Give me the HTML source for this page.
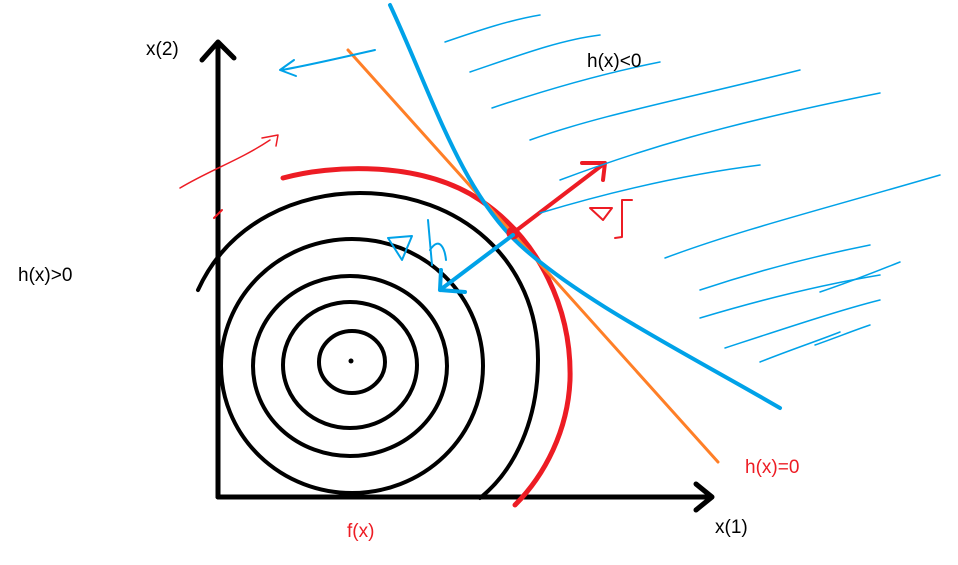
<!DOCTYPE html>
<html><head><style>
html,body{margin:0;padding:0;background:#fff;width:958px;height:565px;overflow:hidden}
text{font-family:"Liberation Sans",sans-serif;font-size:19px}
</style></head><body>
<svg width="958" height="565" viewBox="0 0 958 565" xmlns="http://www.w3.org/2000/svg">
<g fill="none" stroke-linecap="round" stroke-linejoin="round">
<path d="M218 497 V42 M202 60 L218 42 L234 58" stroke="#000" stroke-width="5"/>
<path d="M218 497 H712 M696 484 L712 497 L696 510" stroke="#000" stroke-width="5"/>
<g stroke="#000" stroke-width="4">
<ellipse cx="352" cy="362" rx="33" ry="31"/>
<ellipse cx="350" cy="365" rx="67" ry="63"/>
<ellipse cx="350" cy="366" rx="97" ry="90"/>
<ellipse cx="352" cy="366" rx="131" ry="127"/>
<path d="M198 290 C230 220 300 193 360 193 C460 193 538 260 538 360 C538 420 515 470 480 498"/>
</g>
<circle cx="351" cy="361" r="2.5" fill="#000" stroke="none"/>
<path d="M283 178 C330 165 420 160 480 200 C540 240 572 310 570 380 C568 430 545 475 515 505" stroke="#ed1c24" stroke-width="5"/>
<path d="M348 50 L718 462" stroke="#ff7f27" stroke-width="3"/>
<path d="M390 5 C430 90 460 190 520 245 C580 300 680 350 780 408" stroke="#00a2e8" stroke-width="4"/>
<path d="M513 233 L605 163 M582 163 L605 163 L603 180" stroke="#ed1c24" stroke-width="4"/>
<circle cx="513" cy="233" r="6" fill="#ed1c24" stroke="#ed1c24"/>
<path d="M513 235 L440 290 M441 270 L440 290 L465 292" stroke="#00a2e8" stroke-width="4"/>
<path d="M388 238 L412 236 L402 260 Z M428 220 L432 265 M430 250 C440 235 445 250 446 260" stroke="#00a2e8" stroke-width="2"/>
<path d="M590 208 L612 208 L603 220 Z M632 200 L622 200 L622 237 L615 238" stroke="#ed1c24" stroke-width="2"/>
<path d="M180 188 C210 170 240 160 270 140 M262 138 L278 135 L276 146" stroke="#ed1c24" stroke-width="1.5"/>
<path d="M214 218 L222 210" stroke="#ed1c24" stroke-width="2"/>
<path d="M375 50 C340 58 310 65 282 70 M294 60 L280 70 L296 76" stroke="#00a2e8" stroke-width="2"/>
<g stroke="#00a2e8" stroke-width="1.5">
<path d="M445 42 C480 30 510 20 540 15"/>
<path d="M470 72 C520 55 560 40 600 35"/>
<path d="M492 108 C560 85 620 70 660 62"/>
<path d="M530 140 C600 115 680 100 800 70"/>
<path d="M560 180 C640 150 720 125 880 93"/>
<path d="M540 213 C600 195 680 175 760 165"/>
<path d="M665 258 C740 230 820 210 940 175"/>
<path d="M700 290 C760 270 820 255 870 245"/>
<path d="M700 318 C760 300 820 285 880 275"/>
<path d="M725 348 C780 330 840 310 880 300"/>
<path d="M820 292 C850 282 880 270 900 262"/>
<path d="M760 362 C790 350 820 340 840 332"/>
<path d="M815 345 C835 338 855 330 870 325"/>
</g>
</g>
<text x="146" y="55" fill="#000">x(2)</text>
<text x="587" y="67" fill="#000">h(x)&lt;0</text>
<text x="18" y="281" fill="#000">h(x)&gt;0</text>
<text x="745" y="473" fill="#ed1c24">h(x)=0</text>
<text x="347" y="537" fill="#ed1c24">f(x)</text>
<text x="715" y="533" fill="#000">x(1)</text>
</svg>
</body></html>
